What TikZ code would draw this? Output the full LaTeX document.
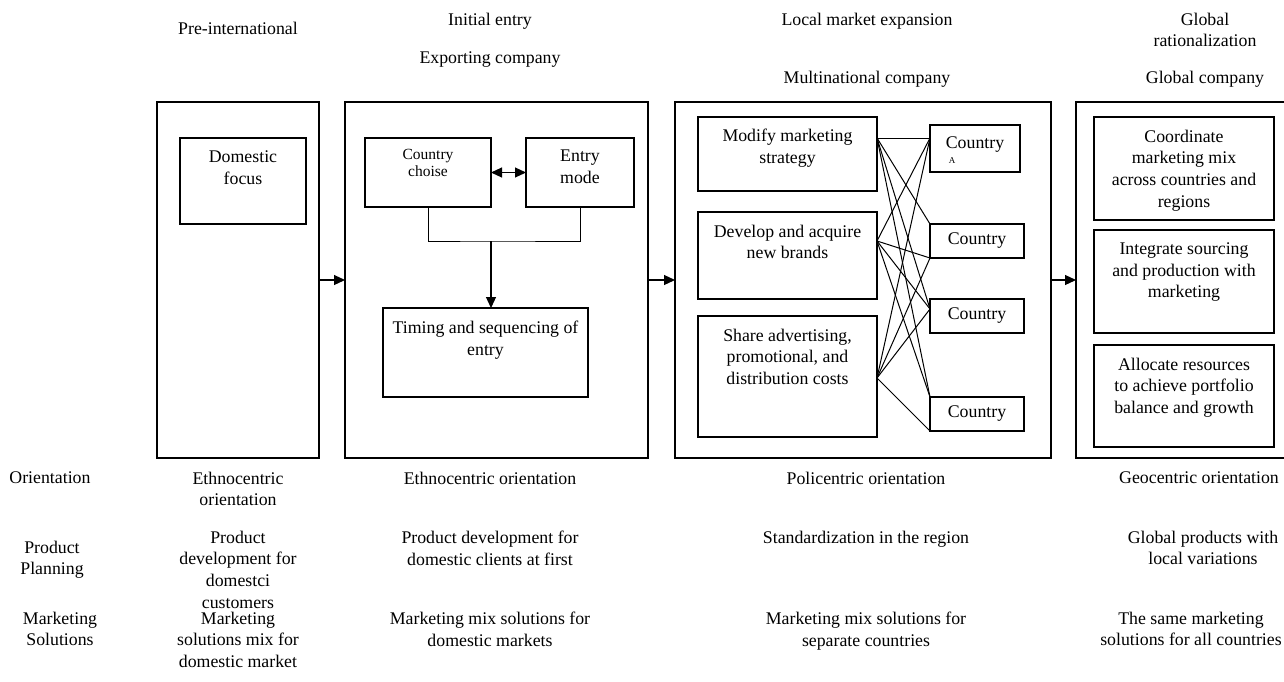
\documentclass[tikz,border=0pt]{standalone}
\usepackage{fontspec}
\setmainfont{Liberation Serif}
\usetikzlibrary{arrows.meta,calc}
\begin{document}
\begin{tikzpicture}[x=1pt,y=-1pt,
 every node/.style={font=\fontsize{17.8}{21.6}\selectfont, inner sep=0pt, outer sep=0pt},
 bx/.style={draw, line width=1.1pt, anchor=north west},
 txt/.style={align=center, anchor=north},
 small/.style={font=\fontsize{15.5}{17.5}\selectfont},
 arr/.style={line width=1.1pt, -{Triangle[length=11pt,width=10pt]}},
 darr/.style={line width=1.1pt, {Triangle[length=11pt,width=10pt]}-{Triangle[length=11pt,width=10pt]}},
 ln/.style={line width=1pt}]
\useasboundingbox (0,0) rectangle (1284,681);

% outer stage boxes
\node[bx, minimum width=162, minimum height=356] (b1) at (157,102) {};
\node[bx, minimum width=303, minimum height=356] (b2) at (345,102) {};
\node[bx, minimum width=376, minimum height=356] (b3) at (675,102) {};
\node[bx, minimum width=214, minimum height=356] (b4) at (1076,102) {};

\draw[arr] (b1.east) -- (b2.west);
\draw[arr] (b2.east) -- (b3.west);
\draw[arr] (b3.east) -- (b4.west);

% stage 1
\node[bx, minimum width=126, minimum height=86] (dom) at (180,138) {};
\node[txt] (tdom) at ($(dom.north)+(0,13)$) {Domestic\\focus};

% stage 2
\node[bx, minimum width=126, minimum height=69] (cc) at (365,138) {};
\node[txt, small] (tcc) at ($(cc.north)+(0,11)$) {Country\\choise};
\node[bx, minimum width=108, minimum height=69] (em) at (526,138) {};
\node[txt] (tem) at ($(em.north)+(0,12)$) {Entry\\mode};
\draw[darr] (cc.east) -- (em.west);
\node[bx, minimum width=205, minimum height=89] (tim) at (383,308) {};
\node[txt] (ttim) at ($(tim.north)+(0,13)$) {Timing and sequencing of\\entry};
\coordinate (j) at (cc.east |- 0,241);
\draw[ln] (cc.south) |- (j) -| (em.south);
\draw[arr] (j) -- (j |- tim.north);

% stage 3
\node[bx, minimum width=179, minimum height=74] (mod) at (698,117) {};
\node[txt] (tmod) at ($(mod.north)+(0,12)$) {Modify marketing\\strategy};
\node[bx, minimum width=179, minimum height=87] (dev) at (698,212) {};
\node[txt] (tdev) at ($(dev.north)+(0,13)$) {Develop and acquire\\new brands};
\node[bx, minimum width=179, minimum height=121] (sha) at (698,316) {};
\node[txt] (tsha) at ($(sha.north)+(0,13)$) {Share advertising,\\promotional, and\\distribution costs};

\node[bx, minimum width=90, minimum height=47] (cA) at (930,125) {};
\node[txt] (tcA) at ($(cA.north)+(0,12)$) {Country};
\node[font=\fontsize{9}{10}\selectfont] (tA) at (952,161) {A};
\node[bx, minimum width=94, minimum height=34] (c2) at (930,224) {};
\node (tc2) at (c2.center) {Country};
\node[bx, minimum width=94, minimum height=34] (c3) at (930,299) {};
\node (tc3) at (c3.center) {Country};
\node[bx, minimum width=94, minimum height=34] (c4) at (930,397) {};
\node (tc4) at (c4.center) {Country};

\coordinate (m) at ($(mod.north east)+(0,21)$);
\coordinate (d) at ($(dev.north east)+(0,29)$);
\coordinate (s) at ($(sha.north east)+(0,62)$);
\coordinate (a) at ($(cA.north west)+(0,13)$);
\coordinate (t3) at ($(c3.north west)+(0,10)$);

\draw[ln] (m) -- (a);
\draw[ln] (m) -- (c2.north west);
\draw[ln] (m) -- (t3);
\draw[ln] (m) -- (c4.north west);
\draw[ln] (d) -- (a);
\draw[ln] (d) -- (c2.south west);
\draw[ln] (d) -- (t3);
\draw[ln] (d) -- (c4.north west);
\draw[ln] (s) -- (a);
\draw[ln] (s) -- (c2.south west);
\draw[ln] (s) -- (t3);
\draw[ln] (s) -- (c4.south west);

% stage 4
\node[bx, minimum width=180, minimum height=103] (coo) at (1094,117) {};
\node[txt] (tcoo) at ($(coo.north)+(0,13)$) {Coordinate\\marketing mix\\across countries and\\regions};
\node[bx, minimum width=180, minimum height=103] (int) at (1094,230) {};
\node[txt] (tint) at ($(int.north)+(0,13)$) {Integrate sourcing\\and production with\\marketing};
\node[bx, minimum width=180, minimum height=102] (all) at (1094,345) {};
\node[txt] (tall) at ($(all.north)+(0,13)$) {Allocate resources\\to achieve portfolio\\balance and growth};

% top headings
\node[txt] (h1) at (238,22) {Pre-international};
\node[txt] (h2a) at (490,13) {Initial entry};
\node[txt] (h2b) at (490,52) {Exporting company};
\node[txt] (h3a) at (867,13) {Local market expansion};
\node[txt] (h3b) at (867,71) {Multinational company};
\node[txt] (h4a) at (1205,13) {Global\\rationalization};
\node[txt] (h4b) at (1205,71) {Global company};

% bottom rows
\node[txt] (r1) at (50,472) {Orientation};
\node[txt] (o1) at (238,472) {Ethnocentric\\orientation};
\node[txt] (o2) at (490,472) {Ethnocentric orientation};
\node[txt] (o3) at (866,472) {Policentric orientation};
\node[txt] (o4) at (1199,472) {Geocentric orientation};

\node[txt] (r2) at (52,541) {Product\\Planning};
\node[txt] (p1) at (238,531) {Product\\development for\\domestci\\customers};
\node[txt] (p2) at (490,531) {Product development for\\domestic clients at first};
\node[txt] (p3) at (866,531) {Standardization in the region};
\node[txt] (p4) at (1203,531) {Global products with\\local variations};

\node[txt] (r3) at (60,612) {Marketing\\Solutions};
\node[txt] (s1) at (238,612) {Marketing\\solutions mix for\\domestic market};
\node[txt] (s2) at (490,612) {Marketing mix solutions for\\domestic markets};
\node[txt] (s3) at (866,612) {Marketing mix solutions for\\separate countries};
\node[txt] (s4) at (1191,612) {The same marketing\\solutions for all countries};
\end{tikzpicture}
\end{document}
